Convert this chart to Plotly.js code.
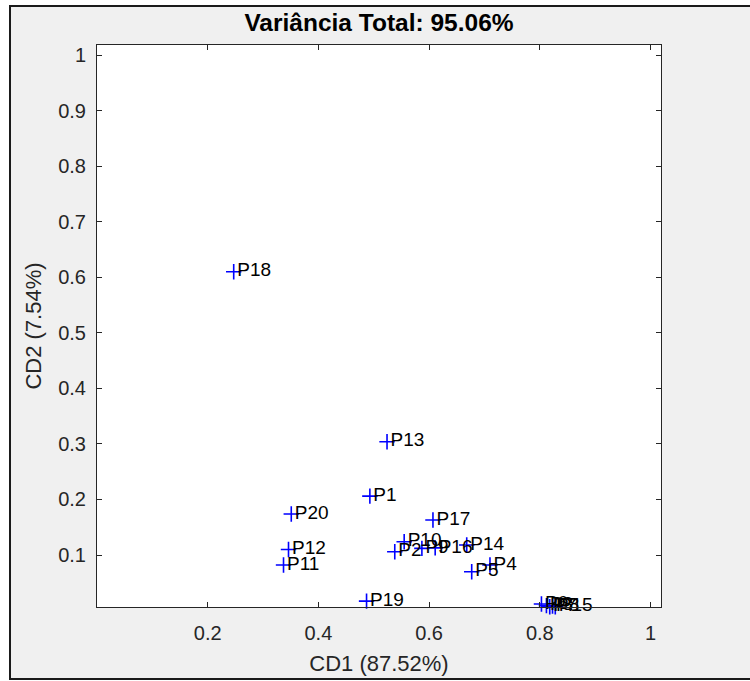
<!DOCTYPE html>
<html>
<head>
<meta charset="utf-8">
<script src="https://cdn.plot.ly/plotly-3.0.1.min.js"></script>
<style>
  html, body { margin: 0; padding: 0; background: #ffffff; width: 750px; height: 681px; overflow: hidden; }
  #frame { position: absolute; left: 9px; top: 5px; width: 760px; height: 675px; box-sizing: border-box;
           border: 2px solid #1a1a1a; background: #f0f0f0; }
  #chart { position: absolute; left: 0; top: 0; width: 750px; height: 681px; }
</style>
</head>
<body>
<div id="frame"></div>
<div id="chart"></div>
<script>
// Data
const pointLabels = ['P1','P2','P3','P4','P5','P6','P7','P8','P9','P10',
                     'P11','P12','P13','P14','P15','P16','P17','P18','P19','P20'];
const cd1 = [0.493, 0.538, 0.812, 0.710, 0.677, 0.803, 0.818, 0.823, 0.587, 0.555,
             0.337, 0.346, 0.524, 0.668, 0.828, 0.611, 0.607, 0.247, 0.487, 0.351];
const cd2 = [0.206, 0.106, 0.009, 0.082, 0.070, 0.012, 0.007, 0.008, 0.112, 0.124,
             0.082, 0.110, 0.304, 0.118, 0.007, 0.113, 0.163, 0.610, 0.017, 0.174];
const xTicks = [0.2, 0.4, 0.6, 0.8, 1];
const yTicks = [0.1, 0.2, 0.3, 0.4, 0.5, 0.6, 0.7, 0.8, 0.9, 1];
const chartTitle = 'Variância Total: 95.06%';
const xTitle = 'CD1 (87.52%)';
const yTitle = 'CD2 (7.54%)';

const axisColor = '#262626';
const fontFam = 'Liberation Sans, Arial, Helvetica, sans-serif';

const markerTrace = {
  x: cd1, y: cd2, type: 'scatter', mode: 'markers',
  marker: { symbol: 'cross-thin-open', size: 11, color: '#0000ff', line: { color: '#0000ff', width: 1.6 } },
  cliponaxis: false, hoverinfo: 'none'
};

const labelTrace = {
  x: cd1, y: cd2, type: 'scatter', mode: 'markers+text',
  text: pointLabels, textposition: 'middle right',
  textfont: { family: fontFam, size: 19, color: '#000000' },
  marker: { size: 4, color: 'rgba(0,0,0,0)', line: { width: 0 } },
  cliponaxis: false, hoverinfo: 'none'
};

const axisCommon = {
  showline: true, linecolor: axisColor, linewidth: 1, mirror: 'allticks',
  ticks: 'inside', ticklen: 5, tickwidth: 1, tickcolor: axisColor,
  showgrid: false, zeroline: false,
  tickfont: { family: fontFam, size: 20, color: axisColor }
};

const layout = {
  width: 750, height: 681,
  margin: { l: 97, r: 89, t: 45, b: 74, pad: 0 },
  paper_bgcolor: 'rgba(0,0,0,0)', plot_bgcolor: '#ffffff',
  showlegend: false,
  title: { text: '<b>' + chartTitle + '</b>', x: 0.5053, xanchor: 'center', y: 0.967, yanchor: 'middle',
           font: { family: fontFam, size: 24.5, color: '#000000' } },
  xaxis: Object.assign({}, axisCommon, {
    range: [0, 1.019], tickvals: xTicks, ticktext: xTicks.map(String),
    ticklabelstandoff: 8,
    title: { text: xTitle, standoff: 12, font: { family: fontFam, size: 22, color: axisColor } }
  }),
  yaxis: Object.assign({}, axisCommon, {
    range: [0.0065, 1.018], tickvals: yTicks, ticktext: yTicks.map(String),
    ticklabelstandoff: 6,
    title: { text: yTitle, standoff: 10, font: { family: fontFam, size: 22, color: axisColor } }
  })
};

Plotly.newPlot('chart', [markerTrace, labelTrace], layout, { staticPlot: true, displayModeBar: false });
</script>
</body>
</html>
